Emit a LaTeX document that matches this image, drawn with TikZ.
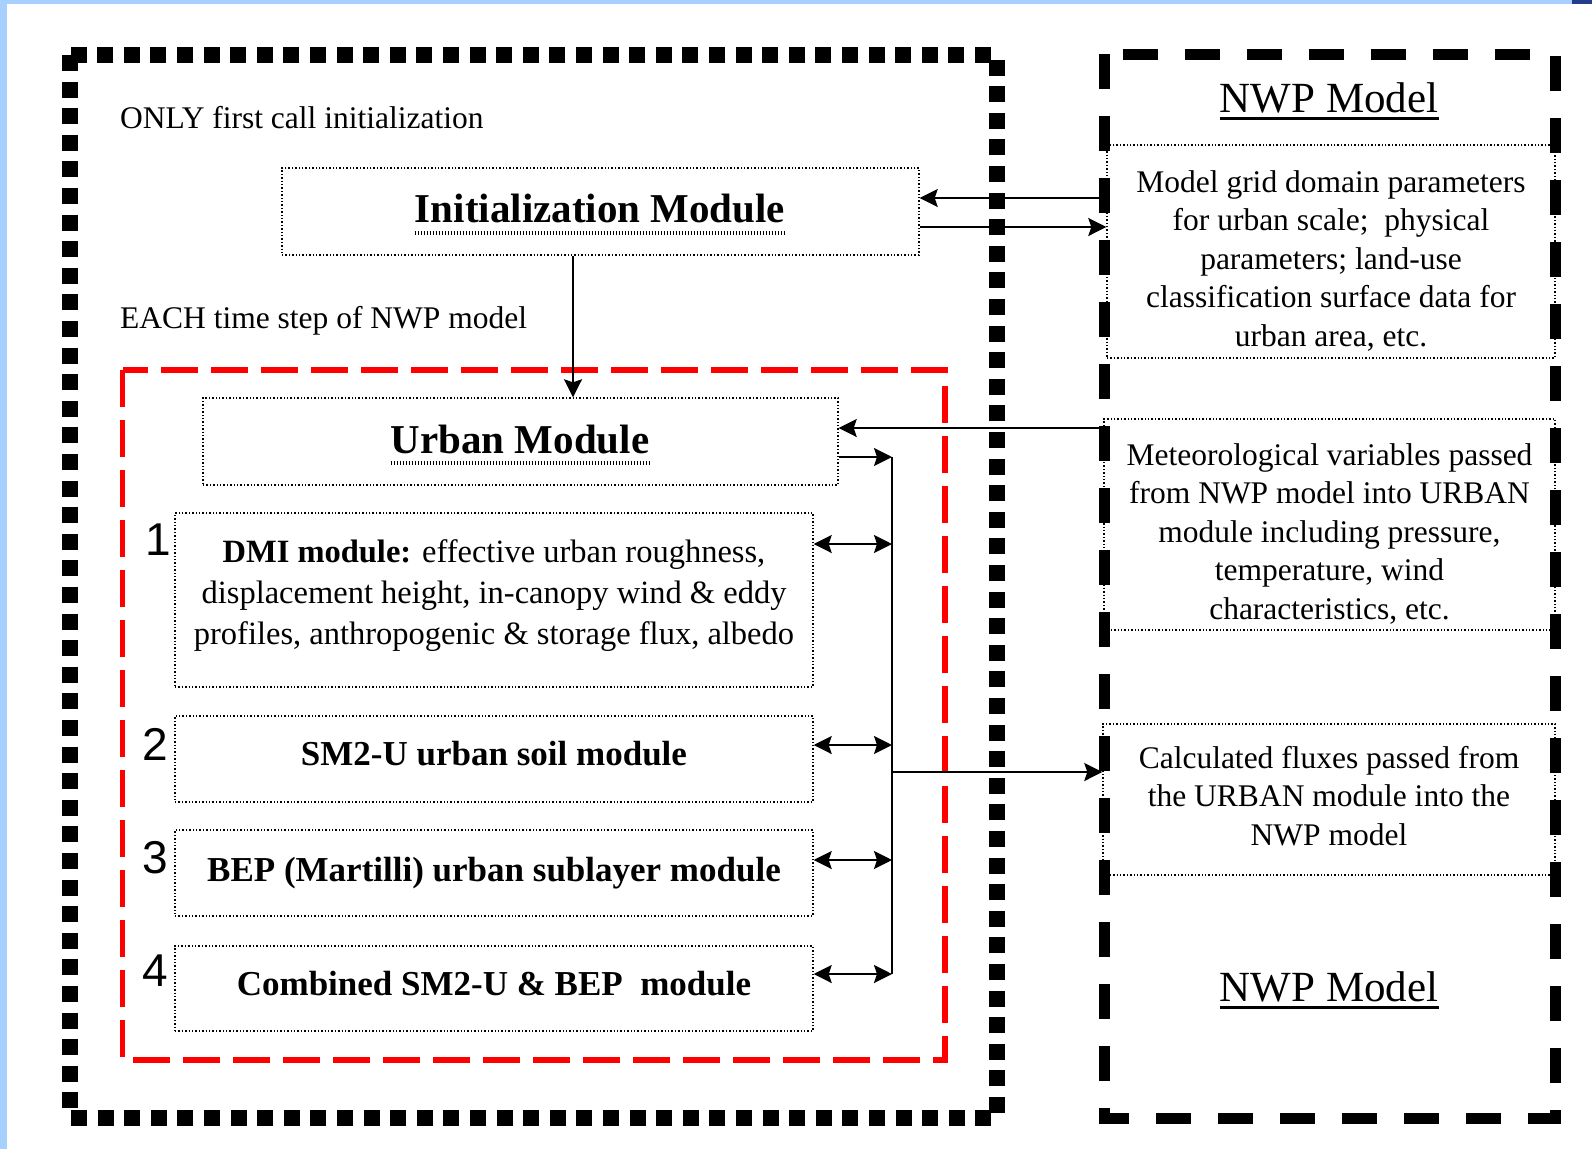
\documentclass[tikz,border=0pt]{standalone}
\usepackage{fontspec}
\setmainfont{Liberation Serif}
\setsansfont{Liberation Sans}
\usetikzlibrary{arrows.meta}
\tikzset{>={Stealth[length=18pt,width=18pt,inset=3pt]}}
\definecolor{edgeblue}{RGB}{168,208,255}
\definecolor{cornerblue}{RGB}{35,60,140}

\begin{document}
\begin{tikzpicture}[x=1pt, y=-1pt,
  modbox/.style={draw, line width=1.4pt, dash pattern=on 1.4pt off 2pt, inner sep=0pt, align=center},
  plaintext/.style={font=\fontsize{31.5}{38.5}\selectfont},
  bigtitle/.style={font=\fontsize{41}{48}\selectfont\bfseries, inner sep=0pt},
  modtext/.style={font=\fontsize{35}{42}\selectfont\bfseries},
  nwptitle/.style={font=\fontsize{43}{50}\selectfont, inner sep=0pt},
  modnum/.style={font=\fontsize{46}{50}\selectfont\sffamily, inner sep=0pt},
  dotul/.style={line width=3.5pt, dash pattern=on 1.5pt off 1.5pt},
  link/.style={line width=2.2pt},
]
\useasboundingbox (0,0) rectangle (1592,1149);
\fill[white] (0,0) rectangle (1592,1149);
\fill[edgeblue] (0,0) rectangle (7,1149);
\fill[edgeblue] (0,0) rectangle (1592,4);
\fill[cornerblue] (1572,0) rectangle (1592,4);

% frames
\draw[line width=16pt, dash pattern=on 16pt off 10.6pt] (70,55) rectangle (997,1118);
\draw[line width=11pt, dash pattern=on 35pt off 27pt] (1104,54) rectangle (1555,1118);
\draw[red, line width=5.5pt, dash pattern=on 37pt off 13pt] (122.5,370) rectangle (945,1060);

\node[plaintext, anchor=base west, inner sep=0pt] (onlytxt) at (120,128) {ONLY first call initialization};
\node[plaintext, anchor=base west, inner sep=0pt] (eachtxt) at (120,328) {EACH time step of NWP model};

% left side boxes
\node[modbox, minimum width=637pt, minimum height=87pt] (init) at (600.5,211.5) {};
\node[bigtitle] (inittitle) at (600,209) {Initialization Module};
\draw[dotul] ([yshift=-10pt]inittitle.base west) -- ([yshift=-10pt]inittitle.base east);

\node[modbox, minimum width=635pt, minimum height=87pt] (urban) at (520.5,441.5) {};
\node[bigtitle] (urbantitle) at (520,440) {Urban Module};
\draw[dotul] ([yshift=-9pt]urbantitle.base west) -- ([yshift=-9pt]urbantitle.base east);

\node[modbox, minimum width=638pt, minimum height=174pt, font=\fontsize{32.5}{41}\selectfont] (dmi) at (494,600)
  {\textbf{DMI module:} effective urban roughness,\\ displacement height, in-canopy wind \& eddy\\ profiles, anthropogenic \& storage flux, albedo\rule[-16pt]{0pt}{0pt}};
\node[modbox, modtext, minimum width=638pt, minimum height=86pt, text depth=12pt] (sm2) at (494,759) {SM2-U urban soil module};
\node[modbox, modtext, minimum width=638pt, minimum height=86pt] (bep) at (494,873) {BEP (Martilli) urban sublayer module};
\node[modbox, modtext, minimum width=638pt, minimum height=85pt, text depth=10pt] (comb) at (494,988.5) {Combined SM2-U \& BEP\ \ module};

\node[modnum] (n1) at (158,540) {1};
\node[modnum] (n2) at (155,744) {2};
\node[modnum] (n3) at (155,858) {3};
\node[modnum] (n4) at (155,971) {4};

% NWP side
\node[nwptitle, anchor=base] (nwptop) at (1329,112) {NWP Model};
\draw[line width=3pt] ([yshift=-6pt]nwptop.base west) -- ([yshift=-6pt]nwptop.base east);
\node[nwptitle, anchor=base] (nwpbot) at (1329,1001) {NWP Model};
\draw[line width=3pt] ([yshift=-6pt]nwpbot.base west) -- ([yshift=-6pt]nwpbot.base east);

\node[modbox, plaintext, minimum width=448pt, minimum height=213pt] (grid) at (1331,251.5)
  {\rule{0pt}{40pt}Model grid domain parameters\\ for urban scale;\ \ physical\\ parameters; land-use\\ classification surface data for\\ urban area, etc.};
\node[modbox, plaintext, minimum width=451pt, minimum height=211pt] (met) at (1329.5,524.5)
  {\rule{0pt}{40pt}Meteorological variables passed\\ from NWP model into URBAN\\ module including pressure,\\ temperature, wind\\ characteristics, etc.};
\node[modbox, plaintext, minimum width=452pt, minimum height=151pt] (calc) at (1329,799.5)
  {Calculated fluxes passed from\\ the URBAN module into the\\ NWP model\rule[-8pt]{0pt}{0pt}};

% connectors
\coordinate (bustop) at (892,457);
\coordinate (busbot) at (892,974);
\draw[link,<-] ([yshift=13.5pt]init.east) -- ([yshift=13.5pt]init.east -| grid.west);
\draw[link,->] ([yshift=-15.5pt]init.east) -- ([yshift=-15.5pt]init.east -| grid.west);
\draw[link,->] ([xshift=-27.5pt]init.south) -- ([xshift=-27.5pt]init.south |- urban.north);
\draw[link,<-] ([yshift=13.5pt]urban.east) -- ([yshift=13.5pt]urban.east -| met.west);
\draw[link,->] ([yshift=-15.5pt]urban.east) -- (bustop);
\draw[link] (bustop) -- (busbot);
\draw[link,<->] ([yshift=56pt]dmi.east) -- ([yshift=56pt]dmi.east -| bustop);
\draw[link,<->] ([yshift=14pt]sm2.east) -- ([yshift=14pt]sm2.east -| bustop);
\draw[link,<->] ([yshift=13pt]bep.east) -- ([yshift=13pt]bep.east -| bustop);
\draw[link,<->] ([yshift=14.5pt]comb.east) -- (busbot);
\draw[link,->] ([yshift=27.5pt]calc.west -| bustop) -- ([yshift=27.5pt]calc.west);
\end{tikzpicture}
\end{document}
